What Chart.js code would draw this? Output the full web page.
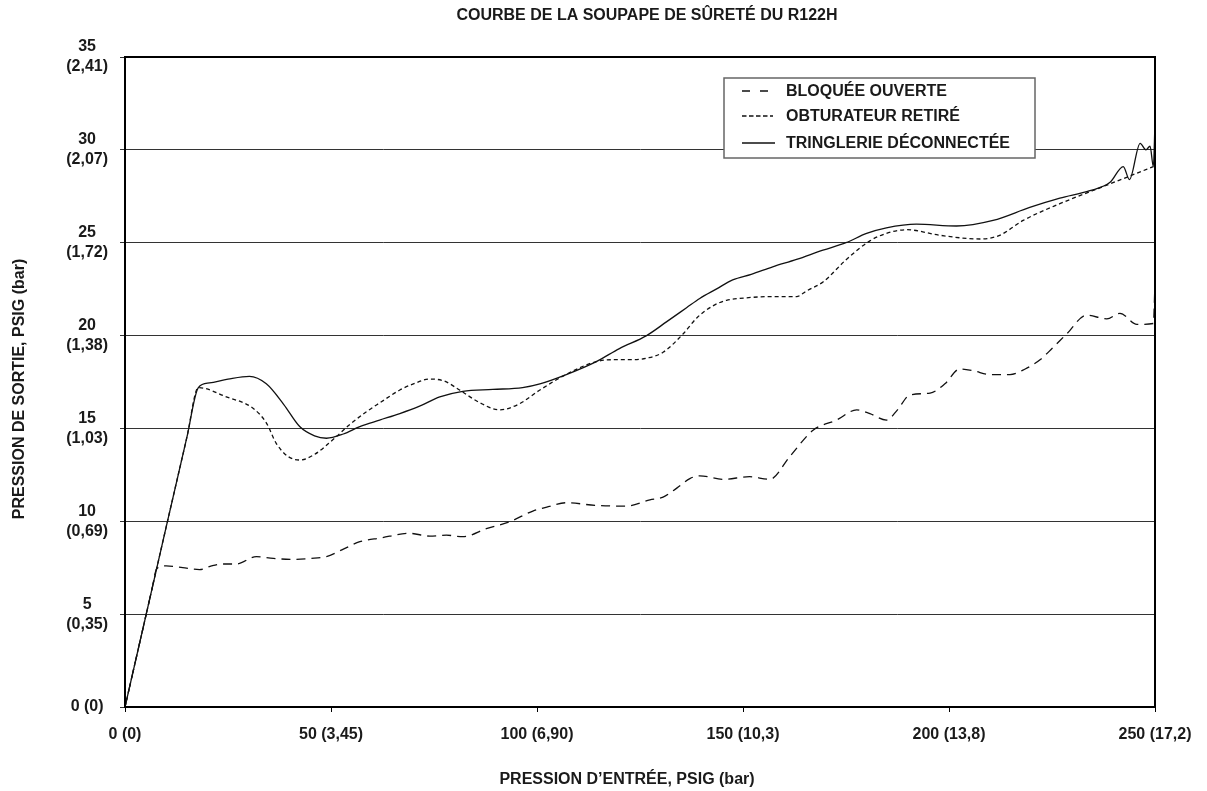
<!DOCTYPE html>
<html>
<head>
<meta charset="utf-8">
<script src="https://cdn.jsdelivr.net/npm/chart.js@4/dist/chart.umd.min.js"></script>
<style>
  html, body { margin: 0; padding: 0; background: #fff; }
  #wrap { width: 1207px; height: 791px; position: relative; }
</style>
</head>
<body>
<div id="wrap"><canvas id="c" width="1207" height="791"></canvas></div>
<script>
// ---------- DATA ----------
const chartTitle = "COURBE DE LA SOUPAPE DE SÛRETÉ DU R122H";
const xAxisTitle = "PRESSION D\u2019ENTRÉE, PSIG (bar)";
const yAxisTitle = "PRESSION DE SORTIE, PSIG (bar)";
const seriesNames = ["BLOQUÉE OUVERTE", "OBTURATEUR RETIRÉ", "TRINGLERIE DÉCONNECTÉE"];

const xTickValues = [0, 50, 100, 150, 200, 250];
const xTickLabels = ["0 (0)", "50 (3,45)", "100 (6,90)", "150 (10,3)", "200 (13,8)", "250 (17,2)"];
const yTickValues = [0, 5, 10, 15, 20, 25, 30, 35];
const yTickLabels = [["0 (0)"], ["5", "(0,35)"], ["10", "(0,69)"], ["15", "(1,03)"], ["20", "(1,38)"], ["25", "(1,72)"], ["30", "(2,07)"], ["35", "(2,41)"]];

// BLOQUÉE OUVERTE (long dashes)
const bloqueeX = [0, 3.5, 6.6, 7.7, 10, 14, 18.1, 21, 23.7, 27, 31.9, 36, 40.7, 45, 48.9, 53, 57, 62, 69.1, 74, 78, 82, 87.7, 93.4, 99, 103, 107.1, 114.4, 121.7, 127.4, 130.6, 134, 137.1, 139.5, 145.2, 151.6, 156.5, 161.4, 167, 172.7, 177.6, 180.8, 184.8, 187.5, 190.5, 195.4, 199, 202.6, 206, 209.9, 214.8, 218.5, 222.1, 225, 228.6, 233.4, 238.3, 241.5, 245.6, 249.6, 250];
const bloqueeY = [0, 3.4, 6.4, 7.45, 7.6, 7.5, 7.4, 7.6, 7.7, 7.7, 8.1, 8.0, 7.95, 8.0, 8.1, 8.5, 8.9, 9.1, 9.35, 9.2, 9.25, 9.17, 9.6, 9.98, 10.55, 10.8, 11.0, 10.85, 10.82, 11.15, 11.3, 11.8, 12.3, 12.45, 12.26, 12.4, 12.26, 13.5, 14.9, 15.45, 16.0, 15.8, 15.45, 16.0, 16.8, 16.9, 17.4, 18.2, 18.1, 17.9, 17.9, 18.2, 18.7, 19.3, 20.1, 21.1, 20.9, 21.2, 20.6, 20.65, 22.8];

// OBTURATEUR RETIRÉ (short dashes)
const obturateurX = [0, 5, 10, 15, 17.8, 24.6, 31, 34.3, 36.7, 39.5, 42.4, 46, 50.5, 54.5, 58.6, 62, 66.7, 70, 74, 77.5, 81.2, 86, 90.9, 95.5, 100.7, 107, 114.4, 119, 123.3, 127, 130.6, 135.5, 139, 142.7, 146, 149.2, 157.2, 163, 165.4, 169.5, 175.1, 180.8, 184.8, 189.7, 197.8, 207.5, 212.3, 218, 226.9, 238.3, 244, 249.6];
const obturateurY = [0, 4.85, 9.7, 14.5, 17.2, 16.7, 16.1, 15.3, 14.2, 13.5, 13.3, 13.6, 14.4, 15.2, 15.9, 16.4, 17.07, 17.4, 17.66, 17.55, 17.07, 16.4, 16.0, 16.3, 17.07, 17.9, 18.6, 18.7, 18.7, 18.8, 19.1, 20.1, 21.0, 21.6, 21.9, 22.0, 22.1, 22.1, 22.4, 22.9, 24.1, 25.1, 25.5, 25.7, 25.4, 25.2, 25.4, 26.2, 27.1, 28.1, 28.6, 29.1];

// TRINGLERIE DÉCONNECTÉE (solid)
const tringlerieX = [0, 5, 10, 15, 17.8, 20.5, 25, 30.2, 34.3, 38.5, 42.4, 46, 48.9, 53, 57, 61.8, 66.7, 71.5, 76.4, 82, 89.3, 96.5, 100.7, 107.1, 114.4, 120, 126.6, 131.5, 136.3, 139.5, 143.5, 147.5, 152, 157.2, 163, 169.4, 175, 180, 184.8, 192.1, 201.8, 210.7, 219.6, 226.9, 234.2, 239.1, 242.3, 243.8, 246.4, 247.8, 248.8, 249.6, 250];
const tringlerieY = [0, 4.85, 9.7, 14.5, 17.2, 17.45, 17.65, 17.8, 17.4, 16.3, 15.1, 14.6, 14.47, 14.7, 15.1, 15.45, 15.8, 16.2, 16.7, 17.0, 17.1, 17.2, 17.4, 17.9, 18.6, 19.3, 20.0, 20.75, 21.5, 22.0, 22.5, 23.0, 23.3, 23.7, 24.1, 24.6, 25.0, 25.5, 25.8, 26.0, 25.9, 26.2, 26.9, 27.4, 27.8, 28.25, 29.1, 28.4, 30.35, 30.0, 30.2, 29.1, 31.4];

// ---------- BUILD ----------
const toPoints = (xs, ys) => xs.map((x, i) => ({ x: x, y: ys[i] }));
const FONT = '"Liberation Sans", Arial, sans-serif';
const TXT = '#1a1a1a';

const seriesDash = [[9, 6], [4, 3], []];

const overlay = {
  id: 'overlay',
  afterDatasetsDraw(chart) {
    const ctx = chart.ctx;
    const a = chart.chartArea;
    ctx.save();
    // legend box
    const lx = 724, ly = 78, lw = 311, lh = 80;
    ctx.fillStyle = '#fff';
    ctx.fillRect(lx, ly, lw, lh);
    ctx.strokeStyle = '#666';
    ctx.lineWidth = 1.5;
    ctx.strokeRect(lx, ly, lw, lh);
    const rows = [91, 116, 143];
    const sampleEnd = [768, 773, 775];
    ctx.font = 'bold 16px ' + FONT;
    ctx.textBaseline = 'middle';
    ctx.textAlign = 'left';
    for (let i = 0; i < 3; i++) {
      ctx.beginPath();
      ctx.strokeStyle = '#111';
      ctx.lineWidth = 1.3;
      ctx.setLineDash(i === 0 ? [8, 10] : (i === 1 ? [4.5, 2.5] : []));
      ctx.moveTo(742, rows[i]);
      ctx.lineTo(sampleEnd[i], rows[i]);
      ctx.stroke();
      ctx.setLineDash([]);
      ctx.fillStyle = TXT;
      ctx.fillText(seriesNames[i], 786, rows[i] + 1);
    }
    // frame
    ctx.strokeStyle = '#000';
    ctx.lineWidth = 2;
    ctx.strokeRect(a.left, a.top, a.right - a.left, a.bottom - a.top);
    // titles
    ctx.fillStyle = TXT;
    ctx.font = 'bold 16px ' + FONT;
    ctx.textAlign = 'center';
    ctx.textBaseline = 'middle';
    ctx.fillText(chartTitle, 647, 16);
    ctx.fillText(xAxisTitle, 627, 780);
    ctx.translate(20, 389);
    ctx.rotate(-Math.PI / 2);
    ctx.fillText(yAxisTitle, 0, 0);
    ctx.restore();
  }
};

new Chart(document.getElementById('c'), {
  type: 'line',
  data: {
    datasets: [
      { label: seriesNames[0], data: toPoints(bloqueeX, bloqueeY), borderDash: seriesDash[0] },
      { label: seriesNames[1], data: toPoints(obturateurX, obturateurY), borderDash: seriesDash[1] },
      { label: seriesNames[2], data: toPoints(tringlerieX, tringlerieY), borderDash: seriesDash[2] }
    ].map(d => Object.assign(d, {
      borderColor: '#111', borderWidth: 1.3, pointRadius: 0, cubicInterpolationMode: 'monotone', fill: false
    }))
  },
  options: {
    responsive: false,
    animation: false,
    devicePixelRatio: 1,
    layout: { padding: { top: 57, right: 52, bottom: 0, left: 0 } },
    plugins: { legend: { display: false }, title: { display: false }, tooltip: { enabled: false } },
    scales: {
      x: {
        type: 'linear', min: 0, max: 250,
        afterFit: s => { s.height = 84; },
        afterBuildTicks: s => { s.ticks = xTickValues.map(v => ({ value: v })); },
        ticks: {
          callback: v => xTickLabels[xTickValues.indexOf(v)],
          font: { family: FONT, size: 16, weight: 'bold' }, color: TXT, padding: 13, maxRotation: 0, autoSkip: false
        },
        grid: { drawOnChartArea: false, drawTicks: true, tickLength: 5, color: '#000', lineWidth: 1 },
        border: { display: true, color: '#000', width: 2 }
      },
      y: {
        type: 'linear', min: 0, max: 35,
        afterFit: s => { s.width = 125; },
        afterBuildTicks: s => { s.ticks = yTickValues.map(v => ({ value: v })); },
        ticks: {
          callback: v => yTickLabels[yTickValues.indexOf(v)],
          font: { family: FONT, size: 16, weight: 'bold', lineHeight: 1.25 }, color: TXT,
          padding: 12, crossAlign: 'center', autoSkip: false
        },
        grid: { color: '#333', lineWidth: 1, tickLength: 5, drawTicks: true },
        border: { display: true, color: '#000', width: 2 }
      }
    }
  },
  plugins: [overlay]
});
</script>
</body>
</html>
